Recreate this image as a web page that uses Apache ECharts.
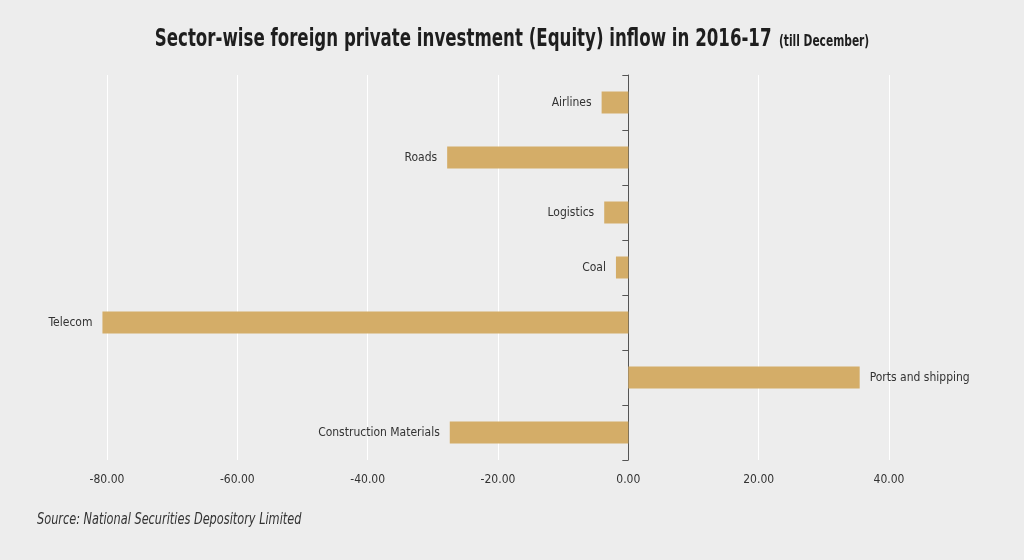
<!DOCTYPE html>
<html>
<head>
<meta charset="utf-8">
<script src="https://cdn.jsdelivr.net/npm/echarts@6/dist/echarts.min.js"></script>
<style>
  html, body { margin: 0; padding: 0; background: #ededed; }
  #chart { width: 1024px; height: 560px; }
</style>
</head>
<body>
<div id="chart"></div>
<script>
// sectors, top to bottom
var sectors = ['Airlines', 'Roads', 'Logistics', 'Coal', 'Telecom', 'Ports and shipping', 'Construction Materials'];
// inflow values
var inflow = [-4.1, -27.8, -3.7, -1.9, -80.7, 35.5, -27.4];
var xTicks = [-80, -60, -40, -20, 0, 20, 40];

var narrow = '"Liberation Sans Narrow", "DejaVu Sans Condensed", Arial, sans-serif';

function drawChart(dom) {
    var barData = inflow.map(function (v) {
        return {
            value: v,
            label: { position: v < 0 ? 'left' : 'right' }
        };
    });

    var option = {
        backgroundColor: '#ededed',
        graphic: [{
            // title, squeezed sideways to look like the condensed headline face
            type: 'text',
            x: 512,
            y: 39,
            scaleX: 0.74,
            style: {
                text: '{main|Sector-wise foreign private investment (Equity) inflow in 2016-17}{sub|(till December)}',
                align: 'center',
                verticalAlign: 'middle',
                rich: {
                    main: { fontFamily: narrow, fontWeight: 'bold', fontSize: 25, fill: '#1e1e1e' },
                    sub: { fontFamily: narrow, fontWeight: 'bold', fontSize: 16, fill: '#1e1e1e', padding: [5, 0, 0, 10] }
                }
            }
        }, {
            type: 'text',
            x: 37,
            y: 520,
            scaleX: 0.84,
            style: {
                text: 'Source: National Securities Depository Limited',
                verticalAlign: 'middle',
                fontFamily: narrow,
                fontStyle: 'italic',
                fontSize: 15,
                fill: '#333'
            }
        }],
        grid: { left: 107, right: 135, top: 75, bottom: 100, containLabel: false },
        xAxis: {
            type: 'value',
            min: xTicks[0],
            max: xTicks[xTicks.length - 1],
            interval: 20,
            axisLine: { show: false },
            axisTick: { show: false },
            splitLine: { lineStyle: { color: '#ffffff', width: 1 } },
            axisLabel: {
                margin: 14,
                fontFamily: narrow,
                fontSize: 12,
                color: '#333',
                formatter: function (v) { return v.toFixed(2); }
            }
        },
        yAxis: {
            type: 'category',
            data: sectors,
            inverse: true,
            axisLine: { onZero: true, lineStyle: { color: '#555', width: 1 } },
            axisTick: {
                show: true,
                length: 6,
                lineStyle: { color: '#555' }
            },
            axisLabel: { show: false },
            splitLine: { show: false }
        },
        series: [{
            type: 'bar',
            data: barData,
            barWidth: 22,
            clip: false,
            itemStyle: { color: '#d4ad68' },
            label: {
                show: true,
                distance: 10,
                fontFamily: narrow,
                fontSize: 12,
                color: '#333',
                formatter: function (p) { return sectors[p.dataIndex]; }
            }
        }]
    };
    var myChart = echarts.init(dom);
    myChart.setOption(option, true);
}

drawChart(document.getElementById('chart'));
</script>
</body>
</html>
